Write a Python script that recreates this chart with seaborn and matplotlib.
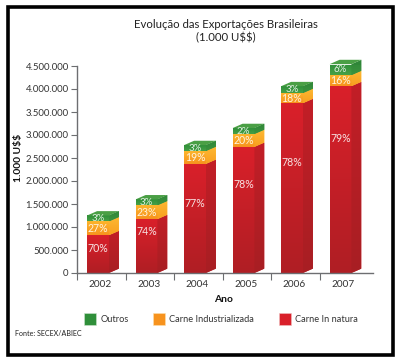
"""Evolucao das exportacoes brasileiras, barras empilhadas com falso 3D."""
import matplotlib.pyplot as plt
import numpy as np
import seaborn as sns
from matplotlib.colors import to_rgb
from matplotlib.patches import Patch, Polygon, Rectangle
from matplotlib.ticker import FuncFormatter
from matplotlib.transforms import ScaledTranslation

years = ['2002', '2003', '2004', '2005', '2006', '2007']
in_natura = [820000, 1170000, 2370000, 2740000, 3690000, 4060000]
industrializada = [300000, 300000, 280000, 280000, 220000, 240000]
outros = [130000, 130000, 130000, 130000, 150000, 240000]
pct_in_natura = ['70%', '74%', '77%', '78%', '78%', '79%']
pct_industrializada = ['27%', '23%', '19%', '20%', '18%', '16%']
pct_outros = ['3%', '3%', '3%', '2%', '3%', '6%']
series_names = ['Outros', 'Carne Industrializada', 'Carne In natura']

# where the white label sits inside the red block
red_label_pos = [0.65, 0.77, 0.64, 0.70, 0.65, 0.72]

W, H = 400, 364
DEPTH_X = 0.206  # category units
DEPTH_Y = 95000
# front top, front bottom, side top, side bottom
RED = ('#d9202a', '#b01e24', '#c21f27', '#a81e23')
ORANGE = ('#fdb52c', '#f7931e', '#fdb933', '#f9a01f')
GREEN = ('#2f8f3a', '#46a046', '#2f8638', '#3b933e')

sns.set_style('white')
plt.rcParams['font.family'] = ['Lato', 'DejaVu Sans']

fig = plt.figure(figsize=(W / 100, H / 100), dpi=100)
ax = fig.add_axes([77 / W, 1 - 273 / H, 296 / W, 207 / H])


def gradient_fill(patch, pts, top, bottom):
    """Paint a vertical gradient clipped to patch."""
    xs, ys = np.array(pts)[:, 0], np.array(pts)[:, 1]
    grad = np.linspace(to_rgb(top), to_rgb(bottom), 32).reshape(32, 1, 3)
    img = ax.imshow(grad, extent=[xs.min(), xs.max(), ys.min(), ys.max()], aspect='auto',
                    origin='upper', zorder=2.5, interpolation='bilinear')
    img.set_clip_path(patch)
    img.set_clip_box(None)


base = np.zeros(len(years))
blocks = []
for values, cols in [(in_natura, RED), (industrializada, ORANGE), (outros, GREEN)]:
    n_before = len(ax.patches)
    sns.barplot(x=years, y=values, bottom=base, color=cols[0], width=0.45,
                saturation=1, ax=ax)
    blocks.append((ax.patches[n_before:], cols))
    base = base + np.array(values)

ax.set_xlim(-0.433, 5.67)
ax.set_ylim(0, 4500000)

for bars, cols in blocks:
    for bar in bars:
        x0, x1 = bar.get_x(), bar.get_x() + bar.get_width()
        y0, y1 = bar.get_y(), bar.get_y() + bar.get_height()
        bar.set_clip_on(False)
        gradient_fill(bar, [(x0, y0), (x1, y1)], cols[0], cols[1])
        pts = [(x1, y0), (x1 + DEPTH_X, y0 + DEPTH_Y), (x1 + DEPTH_X, y1 + DEPTH_Y), (x1, y1)]
        side = Polygon(pts, facecolor=cols[2], edgecolor='none', zorder=2, clip_on=False)
        ax.add_patch(side)
        gradient_fill(side, pts, cols[2], cols[3])

# top of every column
for bar in blocks[-1][0]:
    x0, x1 = bar.get_x(), bar.get_x() + bar.get_width()
    y1 = bar.get_y() + bar.get_height()
    ax.add_patch(Polygon([(x0, y1), (x1, y1), (x1 + DEPTH_X, y1 + DEPTH_Y),
                          (x0 + DEPTH_X, y1 + DEPTH_Y)],
                         facecolor='#4a9f45', edgecolor='none', zorder=2.6, clip_on=False))

# percent labels
for i in range(len(years)):
    ax.text(i, in_natura[i] * red_label_pos[i], pct_in_natura[i], color='#f7e3e3',
            ha='center', va='center', fontsize=7.6, zorder=4)
    ax.text(i, in_natura[i] + industrializada[i] / 2, pct_industrializada[i], color='#fff3dd',
            ha='center', va='center', fontsize=7.6, zorder=4)
    ax.text(i, in_natura[i] + industrializada[i] + outros[i] / 2, pct_outros[i], color='#e3f0e3',
            ha='center', va='center', fontsize=7, zorder=4, clip_on=False)

# axes
sns.despine(ax=ax)
for side in ['left', 'bottom']:
    ax.spines[side].set_color('#6d6e71')
    ax.spines[side].set_linewidth(1)
ax.yaxis.set_major_locator(plt.MultipleLocator(500000))
ax.yaxis.set_major_formatter(FuncFormatter(lambda v, p: f'{int(v):,}'.replace(',', '.')))
ax.tick_params(axis='y', length=4, width=0.8, color='#6d6e71', labelsize=6.9,
               labelcolor='#333333', pad=2, left=True)
ax.set_xticks(range(len(years)), years)
ax.tick_params(axis='x', which='major', length=0, labelsize=7.2, labelcolor='#333333', pad=5)
ax.set_xticks(np.arange(len(years)) - 0.433, minor=True)
ax.tick_params(axis='x', which='minor', length=5, width=0.8, color='#6d6e71', direction='out',
               bottom=True)
shift = ScaledTranslation(2.5 / 100, 0, fig.dpi_scale_trans)
for label in ax.get_xticklabels():
    label.set_transform(label.get_transform() + shift)

fig.text(223 / W, 1 - 300 / H, 'Ano', fontsize=7.4, fontweight='bold', ha='center', va='center',
         color='#111111')
fig.text(18 / W, 1 - 158 / H, '1.000 U$$', fontsize=7.4, fontweight='bold', rotation=90,
         ha='center', va='center', color='#111111', parse_math=False)
fig.text(226 / W, 1 - 24 / H, 'Evolução das Exportações Brasileiras', fontsize=8.2,
         ha='center', va='center', color='#222222')
fig.text(226 / W, 1 - 38 / H, '(1.000 U$$)', fontsize=8.2, ha='center', va='center',
         color='#222222', parse_math=False)
fig.text(15 / W, 1 - 333 / H, 'Fonte: SECEX/ABIEC', fontsize=5.1, ha='left', va='center',
         color='#222222')

handles = [Patch(facecolor=GREEN[0], edgecolor='#cfe3cf', lw=0.4),
           Patch(facecolor=ORANGE[1], edgecolor='#fde0b0', lw=0.4),
           Patch(facecolor=RED[0], edgecolor='#f0c0c0', lw=0.4)]
fig.legend(handles, series_names, ncol=3, frameon=False, fontsize=6.7,
           loc='center left', bbox_to_anchor=(83.5 / W, 1 - 319 / H),
           handlelength=1.35, handleheight=1.7, handletextpad=0.45, columnspacing=2.6,
           labelcolor='#333333', borderpad=0, borderaxespad=0)

# black frame around the whole chart
fig.add_artist(Rectangle((7.5 / W, 1 - 354.5 / H), 385.5 / W, 348 / H, transform=fig.transFigure,
                         facecolor='none', edgecolor='black', lw=2.6))

fig.savefig('out.png', dpi=100)
